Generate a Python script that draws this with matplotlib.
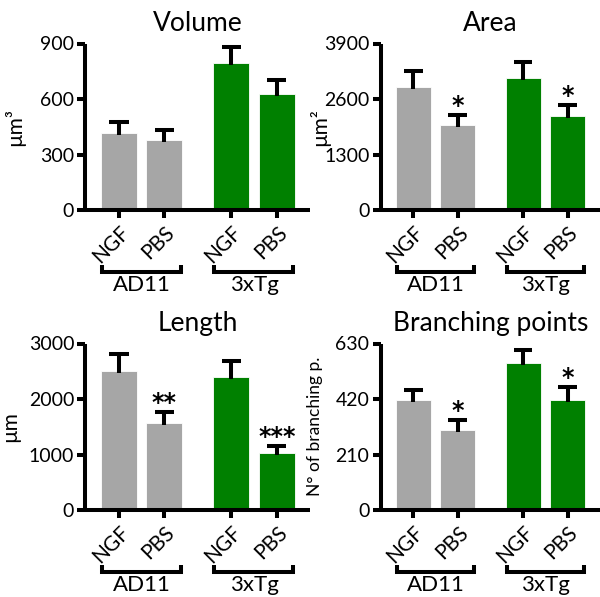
import matplotlib
matplotlib.use("Agg")
import matplotlib.pyplot as plt
import matplotlib.transforms as mtransforms

plt.rcParams['font.family'] = ['Lato', 'DejaVu Sans']

# ---- data ----
conditions = ["NGF", "PBS", "NGF", "PBS"]
groups = ["AD11", "3xTg"]

volume_mean = [416, 380, 793, 627]
volume_sem = [57, 52, 87, 76]
volume_stars = ["", "", "", ""]

area_mean = [2890, 1997, 3101, 2208]
area_sem = [376, 235, 376, 259]
area_stars = ["", "*", "", "*"]

length_mean = [2505, 1566, 2397, 1024]
length_sem = [314, 193, 290, 133]
length_stars = ["", "**", "", "***"]

branch_mean = [417, 304, 556, 417]
branch_sem = [38, 38, 51, 48]
branch_stars = ["", "*", "", "*"]

volume_ticks = [0, 300, 600, 900]
area_ticks = [0, 1300, 2600, 3900]
length_ticks = [0, 1000, 2000, 3000]
branch_ticks = [0, 210, 420, 630]

# ---- style ----
GRAY = "#a6a6a6"
GREEN = "#008000"
bar_colors = [GRAY, GRAY, GREEN, GREEN]
xpos = [0.0, 1.0, 2.47, 3.47]
BAR_W = 0.79
LW = 2.9

W, H = 600, 597
fig = plt.figure(figsize=(W / 100, H / 100), dpi=100)


def add_axes_px(left, right, top, bottom):
    return fig.add_axes([left / W, 1 - bottom / H, (right - left) / W, (bottom - top) / H])


def draw_panel(ax, title, ylabel, ylabel_size, means, sems, stars, ticks, ylabel_x):
    ax.bar(xpos, means, width=BAR_W, color=bar_colors, edgecolor="white",
           linewidth=0.6, zorder=2)
    tops = [m + s for m, s in zip(means, sems)]
    ax.vlines(xpos, [m - 0.012 * ticks[-1] for m in means], tops, color="black",
              linewidth=LW, zorder=3)
    ax.hlines(tops, [x - 0.21 for x in xpos], [x + 0.21 for x in xpos],
              color="black", linewidth=LW, zorder=3)
    for x, t, s in zip(xpos, tops, stars):
        if s:
            ax.annotate(s, (x, t), xytext=(0, 1.5), textcoords="offset points",
                        ha="center", va="baseline", fontsize=17,
                        fontweight="bold", family="DejaVu Sans")

    ax.set_xlim(-0.74, 4.2)
    ax.set_ylim(0, ticks[-1])
    ax.set_yticks(ticks)
    ax.set_yticklabels([str(t) for t in ticks], fontsize=14)
    ax.set_xticks(xpos)
    ax.set_xticklabels(conditions, rotation=45, ha="right", va="top",
                       rotation_mode="anchor", fontsize=15)
    ax.tick_params(axis="both", length=6, width=LW, color="black", pad=2)
    ax.tick_params(axis="x", pad=3)
    for side in ("top", "right"):
        ax.spines[side].set_visible(False)
    for side in ("left", "bottom"):
        ax.spines[side].set_linewidth(LW)
        ax.spines[side].set_capstyle("butt")
    ax.set_title(title, fontsize=19, pad=9)
    ax.set_ylabel(ylabel, fontsize=ylabel_size)
    ax.yaxis.set_label_coords(ylabel_x, 0.5)

    # group brackets and labels below the tick labels
    trans = mtransforms.blended_transform_factory(ax.transData, ax.transAxes)
    for (a, b), name in zip([(xpos[0], xpos[1]), (xpos[2], xpos[3])], groups):
        x0, x1 = a - 0.37, b + 0.36
        ax.plot([x0, x0, x1, x1], [-0.33, -0.375, -0.375, -0.33], color="black",
                linewidth=LW, transform=trans, clip_on=False,
                solid_joinstyle="miter", solid_capstyle="butt")
        ax.text((a + b) / 2, -0.45, name, transform=trans, ha="center",
                va="center", fontsize=16)


ax1 = add_axes_px(85.3, 310, 43.5, 210)
draw_panel(ax1, "Volume", "µm³", 15, volume_mean, volume_sem, volume_stars,
           volume_ticks, -0.27)
ax2 = add_axes_px(380.5, 600, 43.5, 210)
draw_panel(ax2, "Area", "µm²", 15, area_mean, area_sem, area_stars,
           area_ticks, -0.23)
ax3 = add_axes_px(85.3, 310, 343.5, 510)
draw_panel(ax3, "Length", "µm", 15, length_mean, length_sem, length_stars,
           length_ticks, -0.29)
ax4 = add_axes_px(380.5, 600, 343.5, 510)
draw_panel(ax4, "Branching points", "N° of branching p.", 12.5, branch_mean,
           branch_sem, branch_stars, branch_ticks, -0.26)

fig.savefig("out.png", dpi=100)
